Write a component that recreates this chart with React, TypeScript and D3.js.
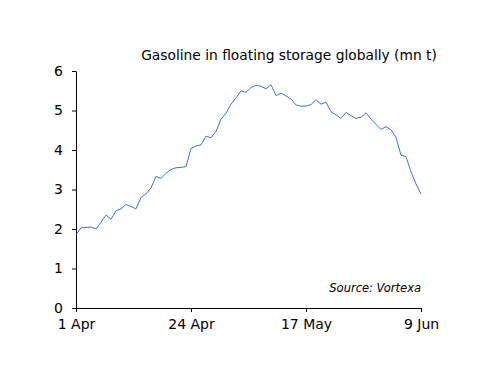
import React, { useEffect, useRef } from "react";
import * as d3 from "d3";

// Gasoline in floating storage, daily from 1 Apr (mn t)
const startDate = new Date(2020, 3, 1);
const values = [
  1.85, 2.03, 2.04, 2.05, 2.0, 2.17, 2.35, 2.25, 2.46, 2.51,
  2.62, 2.57, 2.51, 2.8, 2.89, 3.04, 3.33, 3.28, 3.41, 3.51,
  3.55, 3.56, 3.58, 4.04, 4.1, 4.13, 4.35, 4.31, 4.47, 4.78,
  4.93, 5.16, 5.32, 5.5, 5.46, 5.58, 5.64, 5.61, 5.55, 5.65,
  5.38, 5.44, 5.37, 5.29, 5.14, 5.11, 5.11, 5.15, 5.27, 5.16,
  5.21, 4.97, 4.89, 4.8, 4.95, 4.87, 4.8, 4.83, 4.94, 4.78,
  4.65, 4.52, 4.59, 4.51, 4.32, 3.87, 3.83, 3.45, 3.14, 2.88,
];
const xTickDays = [0, 23, 46, 69];
const yTicks = [0, 1, 2, 3, 4, 5, 6];

const width = 500;
const height = 386;
const margin = { top: 71, right: 79, bottom: 78, left: 76 };

const App: React.FC = () => {
  const svgRef = useRef<SVGSVGElement>(null);

  useEffect(() => {
    if (!svgRef.current) return;
    const svg = d3.select(svgRef.current);
    svg.selectAll("*").remove();

    const data = values.map((v, i) => ({ date: d3.timeDay.offset(startDate, i), value: v }));

    const x = d3
      .scaleTime()
      .domain([startDate, d3.timeDay.offset(startDate, values.length - 1)])
      .range([margin.left, width - margin.right]);
    const y = d3
      .scaleLinear()
      .domain([0, 6])
      .range([height - margin.bottom, margin.top]);

    const font = "'DejaVu Sans', Verdana, sans-serif";

    // y axis
    svg
      .append("g")
      .attr("transform", `translate(${margin.left},0)`)
      .call(
        d3
          .axisLeft(y)
          .tickValues(yTicks)
          .tickSize(4)
          .tickSizeOuter(0)
          .tickPadding(9)
          .tickFormat(d3.format("d"))
      )
      .call((g) => g.selectAll("text").attr("font-size", 14).attr("font-family", font).attr("fill", "#000"))
      .call((g) => g.selectAll("line,path").attr("stroke", "#000"));

    // x axis
    svg
      .append("g")
      .attr("transform", `translate(0,${height - margin.bottom})`)
      .call(
        d3
          .axisBottom(x)
          .tickValues(xTickDays.map((d) => d3.timeDay.offset(startDate, d)))
          .tickSize(4)
          .tickSizeOuter(0)
          .tickPadding(7)
          .tickFormat((d) => d3.timeFormat("%-d %b")(d as Date))
      )
      .call((g) => g.selectAll("text").attr("font-size", 14).attr("font-family", font).attr("fill", "#000"))
      .call((g) => g.selectAll("line,path").attr("stroke", "#000"));

    const line = d3
      .line<{ date: Date; value: number }>()
      .x((d) => x(d.date))
      .y((d) => y(d.value));

    svg
      .append("path")
      .datum(data)
      .attr("fill", "none")
      .attr("stroke", "#4472C4")
      .attr("stroke-width", 1)
      .attr("stroke-linejoin", "round")
      .attr("d", line);

    svg
      .append("text")
      .attr("x", 289)
      .attr("y", 60)
      .attr("text-anchor", "middle")
      .attr("font-family", font)
      .attr("font-size", 13.8)
      .attr("fill", "#000")
      .text("Gasoline in floating storage globally (mn t)");

    svg
      .append("text")
      .attr("x", 421)
      .attr("y", 292)
      .attr("text-anchor", "end")
      .attr("font-family", font)
      .attr("font-style", "italic")
      .attr("font-size", 11.5)
      .attr("fill", "#000")
      .text("Source: Vortexa");
  }, []);

  return (
    <div style={{ position: "absolute", top: 0, left: 0 }}>
      <svg ref={svgRef} width={width} height={height} style={{ background: "#fff" }}></svg>
    </div>
  );
};

export default App;
